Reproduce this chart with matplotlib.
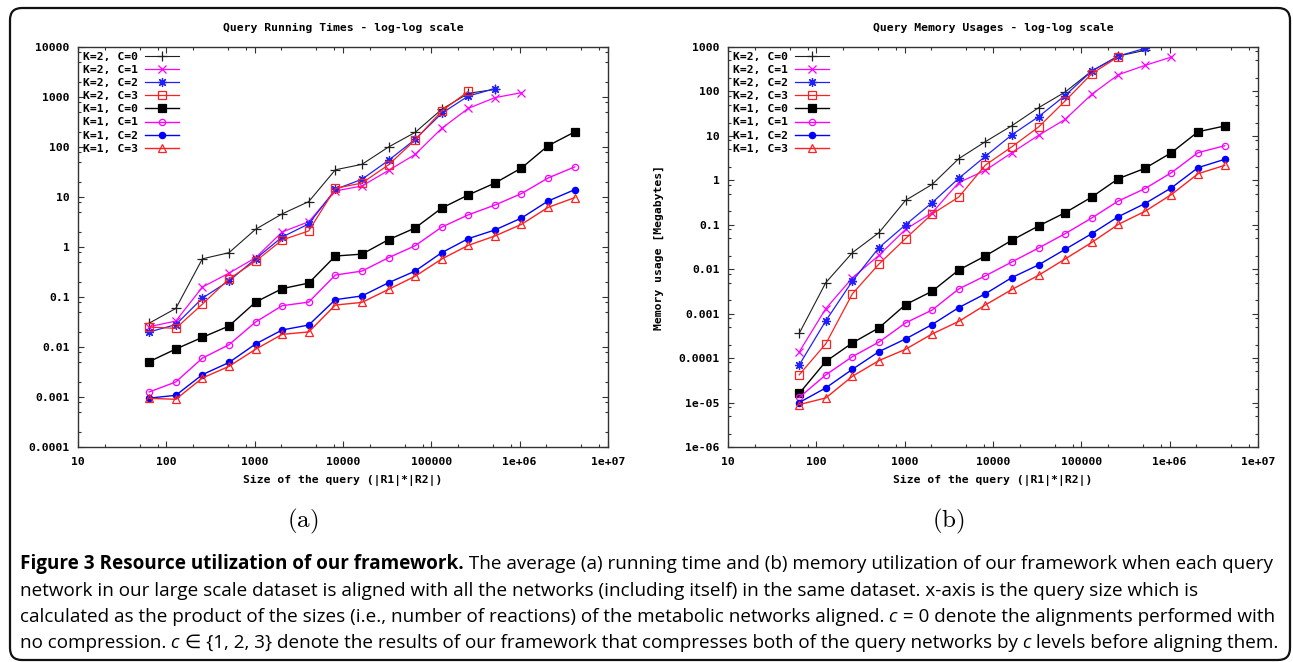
import numpy as np
import matplotlib
matplotlib.use("Agg")
import matplotlib.pyplot as plt
from matplotlib.patches import FancyBboxPatch
from matplotlib.transforms import IdentityTransform
from matplotlib.ticker import FixedLocator, FixedFormatter, LogLocator, NullFormatter

# query sizes |R1|*|R2|
sizes = [64, 128, 256, 512, 1024, 2048, 4096, 8192, 16384, 32768, 65536,
         131072, 262144, 524288, 1048576, 2097152, 4194304]

labels = ["K=2, C=0", "K=2, C=1", "K=2, C=2", "K=2, C=3",
          "K=1, C=0", "K=1, C=1", "K=1, C=2", "K=1, C=3"]

# (a) running times
t_k2c0 = [0.030, 0.059, 0.58, 0.77, 2.26, 4.6, 8.1, 35, 45, 100, 196, 567, 1183, 1422]
t_k2c1 = [0.0255, 0.033, 0.158, 0.30, 0.61, 2.0, 3.2, 13.2, 16.6, 34, 71, 236, 593, 970, 1221]
t_k2c2 = [0.020, 0.028, 0.095, 0.21, 0.58, 1.58, 2.9, 14.2, 22.6, 54, 142, 471, 1047, 1468]
t_k2c3 = [0.025, 0.0236, 0.072, 0.23, 0.52, 1.38, 2.1, 14.9, 19, 44, 138, 525, 1298]
t_k1c0 = [0.0051, 0.0091, 0.0156, 0.0263, 0.079, 0.147, 0.19, 0.66, 0.72, 1.4, 2.4, 6.0, 11, 19, 38, 106, 200]
t_k1c1 = [0.00126, 0.0020, 0.0060, 0.0111, 0.0316, 0.067, 0.079, 0.275, 0.33, 0.61, 1.06, 2.5, 4.4, 6.9, 11.7, 24, 40]
t_k1c2 = [0.00095, 0.00108, 0.0028, 0.0049, 0.0115, 0.0219, 0.0275, 0.0885, 0.105, 0.193, 0.33, 0.77, 1.47, 2.19, 3.8, 8.3, 14]
t_k1c3 = [0.00094, 0.0009, 0.0024, 0.0041, 0.009, 0.0179, 0.020, 0.069, 0.078, 0.142, 0.26, 0.575, 1.08, 1.66, 2.84, 6.2, 9.7]

# (b) memory usages
m_k2c0 = [0.00036, 0.005, 0.0236, 0.0665, 0.355, 0.81, 3.07, 7.4, 17, 43, 97, 288, 625, 840]
m_k2c1 = [0.000138, 0.0013, 0.0064, 0.0206, 0.079, 0.187, 0.89, 1.68, 4.2, 10.3, 23.5, 86, 238, 385, 594]
m_k2c2 = [0.00007, 0.00069, 0.0054, 0.0306, 0.1, 0.315, 1.11, 3.47, 10.6, 27, 81, 288, 625, 930]
m_k2c3 = [0.000042, 0.00021, 0.0028, 0.0131, 0.049, 0.175, 0.42, 2.2, 5.7, 15.8, 61, 250, 604]
m_k1c0 = [0.000016, 0.000084, 0.00022, 0.00048, 0.0016, 0.0032, 0.0096, 0.0199, 0.045, 0.094, 0.187, 0.42, 1.09, 1.86, 4.2, 12.4, 16.7]
m_k1c1 = [0.000013, 0.000042, 0.000108, 0.00023, 0.00062, 0.00121, 0.0036, 0.0071, 0.0146, 0.030, 0.063, 0.142, 0.343, 0.65, 1.49, 4.2, 6.0]
m_k1c2 = [0.00001, 0.0000214, 0.000056, 0.00014, 0.00027, 0.00057, 0.00137, 0.0028, 0.0065, 0.0125, 0.028, 0.063, 0.152, 0.30, 0.68, 1.93, 2.97]
m_k1c3 = [0.000009, 0.0000127, 0.000039, 0.000088, 0.000158, 0.00035, 0.00067, 0.00157, 0.0035, 0.0073, 0.017, 0.04, 0.102, 0.2, 0.48, 1.41, 2.17]

x_ticks = [10, 100, 1000, 10000, 100000, 1e6, 1e7]
x_ticklabels = ["10", "100", "1000", "10000", "100000", "1e+06", "1e+07"]
ya_ticks = [1e-4, 1e-3, 1e-2, 1e-1, 1, 10, 100, 1000, 10000]
ya_ticklabels = ["0.0001", "0.001", "0.01", "0.1", "1", "10", "100", "1000", "10000"]
yb_ticks = [1e-6, 1e-5, 1e-4, 1e-3, 1e-2, 1e-1, 1, 10, 100, 1000]
yb_ticklabels = ["1e-06", "1e-05", "0.0001", "0.001", "0.01", "0.1", "1", "10", "100", "1000"]

styles = [
    dict(color="#202020", marker="+", ms=7, mfc="none", lw=0.8),
    dict(color="#ff00ff", marker="x", ms=5.5, mfc="none", lw=0.9),
    dict(color="#2020ff", marker=(8, 2, 0), ms=6.5, mfc="none", lw=0.9),
    dict(color="#ff2020", marker="s", ms=5.5, mfc="none", lw=0.9),
    dict(color="#000000", marker="s", ms=5.5, mfc="#000000", lw=1.0),
    dict(color="#ff00ff", marker="o", ms=4.5, mfc="none", lw=1.0),
    dict(color="#0000ff", marker="o", ms=4.5, mfc="#0000ff", lw=1.0),
    dict(color="#ff2020", marker="^", ms=5.5, mfc="none", lw=1.0),
]

W, H = 1293, 662
fig = plt.figure(figsize=(W / 100, H / 100), dpi=100)
fig.patch.set_facecolor("white")

gfont = dict(family="DejaVu Sans Mono", fontweight="bold", fontsize=8.2)


def px(x, y):
    return x / W, 1 - y / H


def make_panel(left, series, yticks, yticklabels, ylim, title):
    ax = fig.add_axes([left / W, 1 - 447 / H, 530 / W, 400 / H])
    ax.set_xscale("log")
    ax.set_yscale("log")
    for vals, lab, st in zip(series, labels, styles):
        ax.plot(sizes[:len(vals)], vals, label=lab, mew=0.9, **st)
    ax.set_xlim(10, 1e7)
    ax.set_ylim(*ylim)
    ax.xaxis.set_major_locator(FixedLocator(x_ticks))
    ax.xaxis.set_major_formatter(FixedFormatter(x_ticklabels))
    ax.yaxis.set_major_locator(FixedLocator(yticks))
    ax.yaxis.set_major_formatter(FixedFormatter(yticklabels))
    ax.xaxis.set_minor_locator(LogLocator(base=10, subs=(2, 5, 8), numticks=30))
    ax.yaxis.set_minor_locator(LogLocator(base=10, subs=(2, 5, 8), numticks=30))
    ax.xaxis.set_minor_formatter(NullFormatter())
    ax.yaxis.set_minor_formatter(NullFormatter())
    ax.tick_params(which="both", direction="in", top=True, right=True,
                   width=0.8, color="#333333")
    ax.tick_params(which="major", length=4.5)
    ax.tick_params(which="minor", length=2.5)
    ax.tick_params(axis="x", pad=7)
    ax.tick_params(axis="y", pad=6)
    for lab in ax.get_xticklabels() + ax.get_yticklabels():
        lab.set_family(gfont["family"])
        lab.set_fontweight("bold")
        lab.set_fontsize(gfont["fontsize"])
    for sp in ax.spines.values():
        sp.set_color("#333333")
        sp.set_linewidth(1.0)
    ax.legend(loc="upper left", bbox_to_anchor=(0.0, 1.0), frameon=False,
              markerfirst=False, handlelength=3.0, handletextpad=0.6,
              labelspacing=0.27, borderpad=0.45, borderaxespad=0.0,
              numpoints=1, prop=dict(family="DejaVu Sans Mono", weight="bold", size=8.2))
    cx = left + 265
    fig.text(*px(cx, 28), title, ha="center", va="center", **gfont)
    fig.text(*px(cx, 480), "Size of the query (|R1|*|R2|)", ha="center", va="center", **gfont)
    return ax


ax_a = make_panel(78, [t_k2c0, t_k2c1, t_k2c2, t_k2c3, t_k1c0, t_k1c1, t_k1c2, t_k1c3],
                  ya_ticks, ya_ticklabels, (1e-4, 1e4), "Query Running Times - log-log scale")
ax_b = make_panel(728, [m_k2c0, m_k2c1, m_k2c2, m_k2c3, m_k1c0, m_k1c1, m_k1c2, m_k1c3],
                  yb_ticks, yb_ticklabels, (1e-6, 1e3), "Query Memory Usages - log-log scale")
fig.text(*px(659, 248), "Memory usage [Megabytes]", rotation=90, ha="center", va="center", **gfont)

# panel letters
fig.text(*px(303, 521), r"$\mathrm{(a)}$", ha="center", va="center", fontsize=18, math_fontfamily="cm")
fig.text(*px(948, 521), r"$\mathrm{(b)}$", ha="center", va="center", fontsize=18, math_fontfamily="cm")

# caption
cap_family = ["Open Sans", "DejaVu Sans"]
NORM = dict()
BOLD = dict(fontweight="bold")
ITAL = dict(fontstyle="italic")
cap_lines = [
    [("Figure 3 Resource utilization of our framework.", BOLD),
     (" The average (a) running time and (b) memory utilization of our framework when each query", NORM)],
    [("network in our large scale dataset is aligned with all the networks (including itself) in the same dataset. x-axis is the query size which is", NORM)],
    [("calculated as the product of the sizes (i.e., number of reactions) of the metabolic networks aligned.", NORM),
     (" c", ITAL), (" = 0 denote the alignments performed with", NORM)],
    [("no compression.", NORM), (" c", ITAL),
     (" \u2208 {1, 2, 3} denote the results of our framework that compresses both of the query networks by", NORM),
     (" c", ITAL), (" levels before aligning them.", NORM)],
]
cap_y = [569, 596, 622, 648]

renderer = fig.canvas.get_renderer()


def line_width(runs, size):
    total = 0
    for s, kw in runs:
        t = fig.text(0, 0, s, fontsize=size, family=cap_family, **kw)
        total += t.get_window_extent(renderer=renderer).width
        t.remove()
    return total


cap_size = 12 * 1252 / line_width(cap_lines[0], 12)

for runs, yy in zip(cap_lines, cap_y):
    x = 20
    for s, kw in runs:
        t = fig.text(*px(x, yy), s, fontsize=cap_size, family=cap_family, va="baseline", **kw)
        x += t.get_window_extent(renderer=renderer).width

# rounded frame
frame = FancyBboxPatch((10, 2), 1280, 652, boxstyle="round,pad=0,rounding_size=12",
                       transform=IdentityTransform(), fill=False, lw=1.6, ec="#111111")
fig.patches.append(frame)

fig.savefig("out.png", dpi=100)
